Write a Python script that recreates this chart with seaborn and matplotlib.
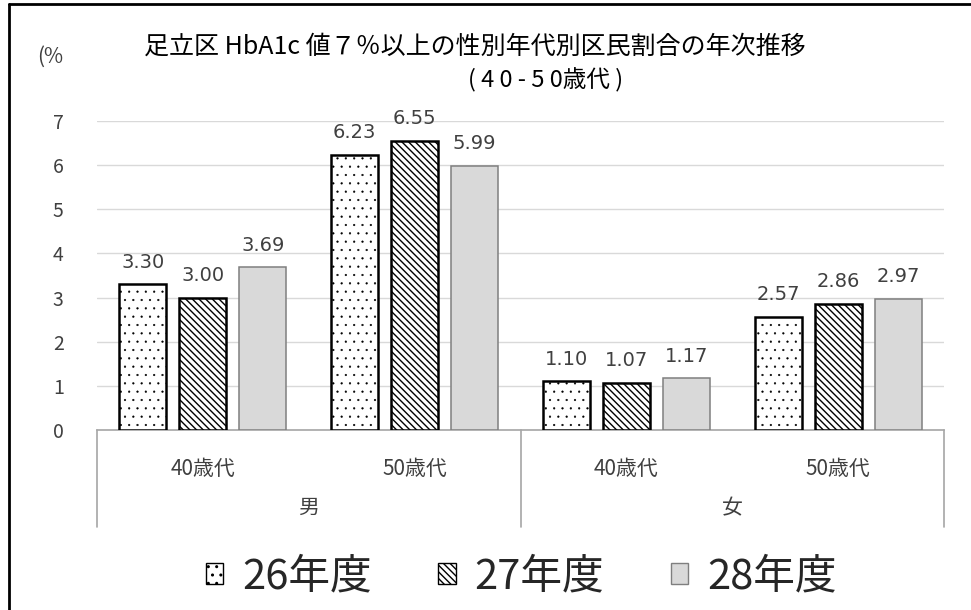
import matplotlib
matplotlib.use("Agg")
import matplotlib.pyplot as plt
import matplotlib.transforms as mtrans
from matplotlib.lines import Line2D
from matplotlib.patches import Patch
import pandas as pd
import seaborn as sns

# Data
sexes = ["男", "男", "女", "女"]
ages = ["40歳代", "50歳代", "40歳代", "50歳代"]
years = ["26年度", "27年度", "28年度"]
rate_h26 = [3.30, 6.23, 1.10, 2.57]
rate_h27 = [3.00, 6.55, 1.07, 2.86]
rate_h28 = [3.69, 5.99, 1.17, 2.97]
yticks = [0, 1, 2, 3, 4, 5, 6, 7]

sns.set_theme(style="white")
plt.rcParams["font.family"] = ["Noto Sans CJK JP", "DejaVu Sans"]
plt.rcParams["hatch.linewidth"] = 1.0

groups = [f"{s}{a}" for s, a in zip(sexes, ages)]
df = pd.DataFrame({
    "group": groups * 3,
    "year": [y for y in years for _ in groups],
    "rate": rate_h26 + rate_h27 + rate_h28,
})

W, H = 971, 610
fig = plt.figure(figsize=(W / 100, H / 100), dpi=100)
ax = fig.add_axes([97 / W, 1 - 430 / H, (944 - 97) / W, (430 - 121) / H])

sns.barplot(data=df, x="group", y="rate", hue="year", order=groups,
            hue_order=years, palette=["white", "white", "#d9d9d9"],
            width=0.85, gap=0.22, errorbar=None, legend=False, ax=ax)

styles = [
    dict(facecolor="white", edgecolor="black", hatch="..", linewidth=1.8),
    dict(facecolor="white", edgecolor="black", hatch="\\\\\\\\\\", linewidth=1.8),
    dict(facecolor="#d9d9d9", edgecolor="#7f7f7f", hatch="", linewidth=1.1),
]
hatch_lw = [0.35, 1.0, 1.0]


def apply_style(patch, st, hlw):
    patch.set(**st)
    if hasattr(patch, "set_hatch_linewidth"):
        patch.set_hatch_linewidth(hlw)


for cont, st, hlw in zip(ax.containers, styles, hatch_lw):
    for bar in cont:
        apply_style(bar, st, hlw)
        bar.set_zorder(3)
    ax.bar_label(cont, fmt="%.2f", padding=9, fontsize=14, color="#404040",
                 family=["DejaVu Sans"])

# axes styling
ax.set_ylim(0, 7)
ax.set_xlim(-0.5, 3.5)
ax.set_yticks(yticks)
ax.set_yticklabels([str(t) for t in yticks], fontsize=14, color="#404040")
ax.yaxis.grid(True, color="#d9d9d9", linewidth=1.0, zorder=0)
ax.set_axisbelow(True)
for side in ["left", "right", "top"]:
    ax.spines[side].set_visible(False)
ax.spines["bottom"].set_color("#a6a6a6")
ax.spines["bottom"].set_linewidth(1.2)
ax.set_xticks(range(len(groups)))
ax.set_xticklabels(ages, fontsize=15, color="#404040")
ax.tick_params(axis="x", length=0, pad=20)
ax.tick_params(axis="y", length=0, pad=24)
ax.set_xlabel("")
ax.set_ylabel("")

# hierarchical category axis: dividers and sex labels
trans = mtrans.blended_transform_factory(ax.transData, ax.transAxes)
y_low = -(527 - 430) / (430 - 121)
for xv in [-0.5, 1.5, 3.5]:
    ax.add_line(Line2D([xv, xv], [0, y_low], transform=trans, color="#a6a6a6",
                       linewidth=1.2, clip_on=False))
for xc, s in [(0.5, "男"), (2.5, "女")]:
    ax.text(xc, -(508 - 430) / (430 - 121), s, transform=trans, ha="center",
            va="center", fontsize=15, color="#404040")

# titles
fig.text(475 / W, 1 - 47 / H, "足立区 HbA1c 値７％以上の性別年代別区民割合の年次推移",
         ha="center", va="center", fontsize=18, color="black")
fig.text(546 / W, 1 - 80 / H, "( 4 0 - 5 0歳代 )", ha="center", va="center",
         fontsize=17, color="black")
fig.text(50 / W, 1 - 57 / H, "(%", ha="center", va="center", fontsize=15,
         color="#404040")

# legend
handles = []
for st, y, hlw in zip(styles, years, hatch_lw):
    h = Patch(label=y)
    apply_style(h, st, hlw)
    h.set_linewidth(1.0)
    handles.append(h)
fig.legend(handles=handles, loc="center", bbox_to_anchor=(521 / W, 1 - 577 / H),
           ncol=3, frameon=False, fontsize=30, handlelength=0.42,
           handleheight=0.42, handletextpad=0.45, columnspacing=1.6)

# outer frame (left and top edges)
fig.add_artist(Line2D([9 / W, 9 / W], [0, 1 - 4 / H], color="black",
                      linewidth=2.0, transform=fig.transFigure))
fig.add_artist(Line2D([9 / W, 1], [1 - 4 / H, 1 - 4 / H], color="black",
                      linewidth=2.0, transform=fig.transFigure))

fig.savefig("out.png", dpi=100)
